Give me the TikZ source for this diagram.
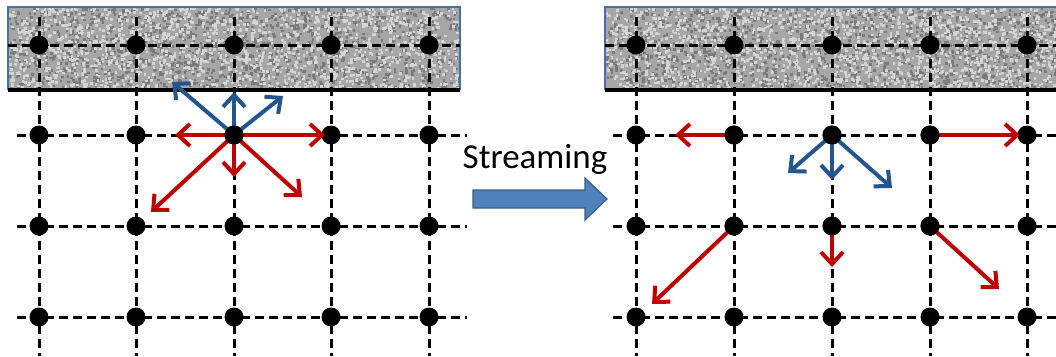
\documentclass[tikz,border=0pt]{standalone}
\usepackage{fontspec}
\setmainfont{Carlito}
\usetikzlibrary{arrows.meta}
\definecolor{lbmred}{HTML}{C00000}
\definecolor{lbmblue}{HTML}{25558F}
\definecolor{boxblue}{HTML}{4A6FA5}
\definecolor{blkfill}{HTML}{4F81BD}
\definecolor{blkdraw}{HTML}{385D8A}
\tikzset{
  dot/.style={circle,fill=black,minimum size=19pt,inner sep=0pt},
  grid line/.style={draw=black,line width=3pt,dash pattern=on 9pt off 5pt},
  vel/.style={line width=4pt,-{Straight Barb[length=12pt,width=22pt,line width=4pt]}},
  redvel/.style={vel,draw=lbmred},
  bluevel/.style={vel,draw=lbmblue},
  wallbox/.style={draw=boxblue,line width=1.8pt},
  wallbase/.style={line width=3.4pt,draw=black},
}
\newcommand{\noisefill}[4]{%
  \begin{scope}
    \clip (#1,#2) rectangle (#3,#4);
    \fill[black!35] (#1,#2) rectangle (#3,#4);
    \foreach \i in {1,...,1500}{
      \pgfmathsetmacro\xx{#1+(#3-#1)*rnd}
      \pgfmathsetmacro\yy{#2+(#4-#2)*rnd}
      \fill[black!52] (\xx,\yy) rectangle ++(2.6,2.6);
    }
    \foreach \i in {1,...,1600}{
      \pgfmathsetmacro\xx{#1+(#3-#1)*rnd}
      \pgfmathsetmacro\yy{#2+(#4-#2)*rnd}
      \fill[black!17] (\xx,\yy) rectangle ++(2.6,2.6);
    }
  \end{scope}}
\begin{document}
\begin{tikzpicture}[x=1pt,y=-1pt]
\pgfmathsetseed{7}
\useasboundingbox (0,0) rectangle (1056,356);
% ---- walls ----
\noisefill{8}{7}{460}{90}
\noisefill{605}{7}{1060}{90}
\draw[wallbox] (8,90) -- (8,7) -- (460,7) -- (460,90);
\draw[wallbox] (605,90) -- (605,7) -- (1060,7);
\draw[wallbase] (8,90) -- (460,90);
\draw[wallbase] (605,90) -- (1056,90);
% ---- left lattice ----
\foreach \x in {39,136,234,331,429}{
  \draw[grid line] (\x,17) -- (\x,356);
}
\draw[grid line] (8,45) -- (460,45);
\foreach \y in {135,226,317}{
  \draw[grid line] (17,\y) -- (467,\y);
}
% ---- right lattice ----
\foreach \x in {636,734,832,930,1027}{
  \draw[grid line] (\x,17) -- (\x,356);
}
\draw[grid line] (605,45) -- (1056,45);
\foreach \y in {135,226,317}{
  \draw[grid line] (613,\y) -- (1056,\y);
}
% ---- nodes ----
\foreach \x [count=\c] in {39,136,234,331,429}{
  \foreach \y [count=\r] in {45,135,226,317}{
    \node[dot] (L\r\c) at (\x,\y) {};
  }
}
\foreach \x [count=\c] in {636,734,832,930,1027}{
  \foreach \y [count=\r] in {45,135,226,317}{
    \node[dot] (R\r\c) at (\x,\y) {};
  }
}
% ---- arrow end points ----
\coordinate (lb1) at (172,82);
\coordinate (lb2) at (234,92);
\coordinate (lb3) at (283,96);
\coordinate (lr1) at (175,135);
\coordinate (lr2) at (325,135);
\coordinate (lr3) at (234,177);
\coordinate (lr4) at (151,212);
\coordinate (lr5) at (302,197);
\coordinate (rr1) at (675,135);
\coordinate (rr2) at (1020,135);
\coordinate (rb1) at (788,173);
\coordinate (rb2) at (832,180);
\coordinate (rb3) at (892,188);
\coordinate (rr3) at (652,304);
\coordinate (rr4) at (832,267);
\coordinate (rr5) at (999,289);
% ---- left velocities ----
\draw[bluevel] (L23.center) -- (lb1);
\draw[bluevel] (L23.center) -- (lb2);
\draw[bluevel] (L23.center) -- (lb3);
\draw[redvel] (L23.center) -- (lr1);
\draw[redvel] (L23.center) -- (lr2);
\draw[redvel] (L23.center) -- (lr3);
\draw[redvel] (L23.center) -- (lr4);
\draw[redvel] (L23.center) -- (lr5);
\node[dot] at (L23) {};
% ---- right velocities ----
\draw[redvel] (R22.center) -- (rr1);
\draw[redvel] (R24.center) -- (rr2);
\draw[bluevel] (R23.center) -- (rb1);
\draw[bluevel] (R23.center) -- (rb2);
\draw[bluevel] (R23.center) -- (rb3);
\draw[redvel] (R32.center) -- (rr3);
\draw[redvel] (R33.center) -- (rr4);
\draw[redvel] (R34.center) -- (rr5);
\foreach \n in {R22,R24,R23,R32,R33,R34}{\node[dot] at (\n) {};}
% ---- streaming label and block arrow ----
\node[anchor=base,inner sep=0pt,font=\fontsize{35}{40}\selectfont] (lbl) at (535,168) {Streaming};
\draw[fill=blkfill,draw=blkdraw,line width=1.2pt,line join=miter]
  (473,190) -- (585,190) -- (585,178) -- (607,199) -- (585,220) -- (585,208) -- (473,208) -- cycle;
\end{tikzpicture}
\end{document}
